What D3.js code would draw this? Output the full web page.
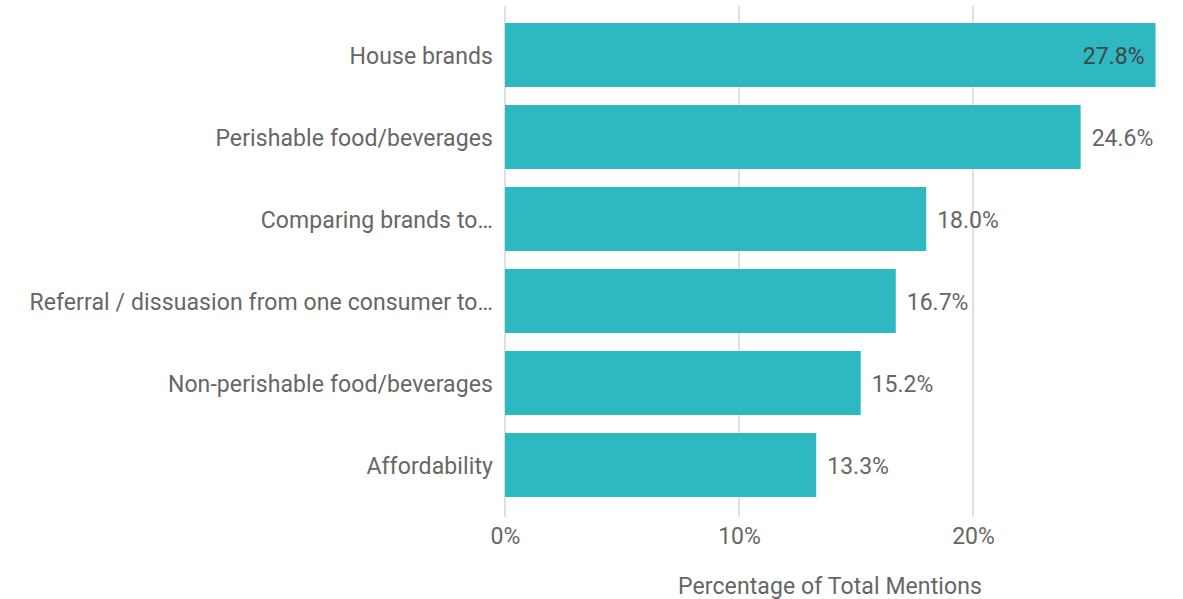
<!DOCTYPE html>
<html>
<head>
<meta charset="utf-8">
<script src="https://cdn.jsdelivr.net/npm/d3@7"></script>
<style>
  html, body { margin: 0; padding: 0; background: #fff; }
  svg { display: block; font-family: Roboto, "Noto Sans", sans-serif; }
</style>
</head>
<body>
<svg id="chart" width="1183" height="599"></svg>
<script>
// Share of total mentions per topic
const categories = [
  "House brands",
  "Perishable food/beverages",
  "Comparing brands to…",
  "Referral / dissuasion from one consumer to…",
  "Non-perishable food/beverages",
  "Affordability"
];
const values = [27.8, 24.6, 18.0, 16.7, 15.2, 13.3];
const xTicks = [0, 10, 20];
const xTitle = "Percentage of Total Mentions";

const svg = d3.select("#chart");
const width = 1183;
const margin = { top: 23, left: 505 };
const plotBottom = 497;
const labelSize = 23;

const x = d3.scaleLinear().domain([0, 10]).range([margin.left, margin.left + 234]);
const y = d3.scaleBand()
  .domain(categories)
  .range([margin.top - 9, plotBottom + 9])
  .paddingInner(0.22)
  .paddingOuter(0.11);

// vertical grid lines
svg.append("g")
  .selectAll("line")
  .data(xTicks)
  .join("line")
  .attr("x1", d => x(d)).attr("x2", d => x(d))
  .attr("y1", 6).attr("y2", 517)
  .attr("stroke", "#e0e0e0")
  .attr("stroke-width", 2);

// bars
svg.append("g")
  .selectAll("rect")
  .data(values)
  .join("rect")
  .attr("x", x(0))
  .attr("y", (d, i) => y(categories[i]))
  .attr("width", d => x(d) - x(0))
  .attr("height", y.bandwidth())
  .attr("fill", "#2eb8c2");

// value labels: placed inside the bar when there is no room past its end
const fmt = d => d.toFixed(1) + "%";
const inside = d => x(d) + 11 + 66 > width;
svg.append("g")
  .selectAll("text")
  .data(values)
  .join("text")
  .attr("x", d => x(d) + (inside(d) ? -11 : 11))
  .attr("y", (d, i) => y(categories[i]) + y.bandwidth() / 2)
  .attr("dy", "0.38em")
  .attr("text-anchor", d => inside(d) ? "end" : "start")
  .attr("fill", d => inside(d) ? "#444" : "#666")
  .attr("font-size", labelSize)
  .text(fmt);

// category labels
const yAxis = svg.append("g")
  .attr("transform", `translate(${margin.left},0)`)
  .call(d3.axisLeft(y).tickSize(0).tickPadding(12));
yAxis.select(".domain").remove();
yAxis.selectAll("text")
  .attr("font-size", labelSize)
  .attr("font-family", "Roboto, sans-serif")
  .attr("letter-spacing", 0.1)
  .attr("dy", "0.38em")
  .attr("fill", "#666");

// x axis tick labels
const xAxis = svg.append("g")
  .attr("transform", `translate(0,${plotBottom})`)
  .call(d3.axisBottom(x).tickValues(xTicks).tickFormat(d => d + "%").tickSize(0).tickPadding(31));
xAxis.select(".domain").remove();
xAxis.selectAll("text")
  .attr("font-size", labelSize)
  .attr("font-family", "Roboto, sans-serif")
  .attr("fill", "#666");

// axis title
svg.append("text")
  .attr("x", 830)
  .attr("y", 585)
  .attr("dy", "0.38em")
  .attr("text-anchor", "middle")
  .attr("font-size", 23)
  .attr("letter-spacing", 0.1)
  .attr("fill", "#666")
  .text(xTitle);
</script>
</body>
</html>
